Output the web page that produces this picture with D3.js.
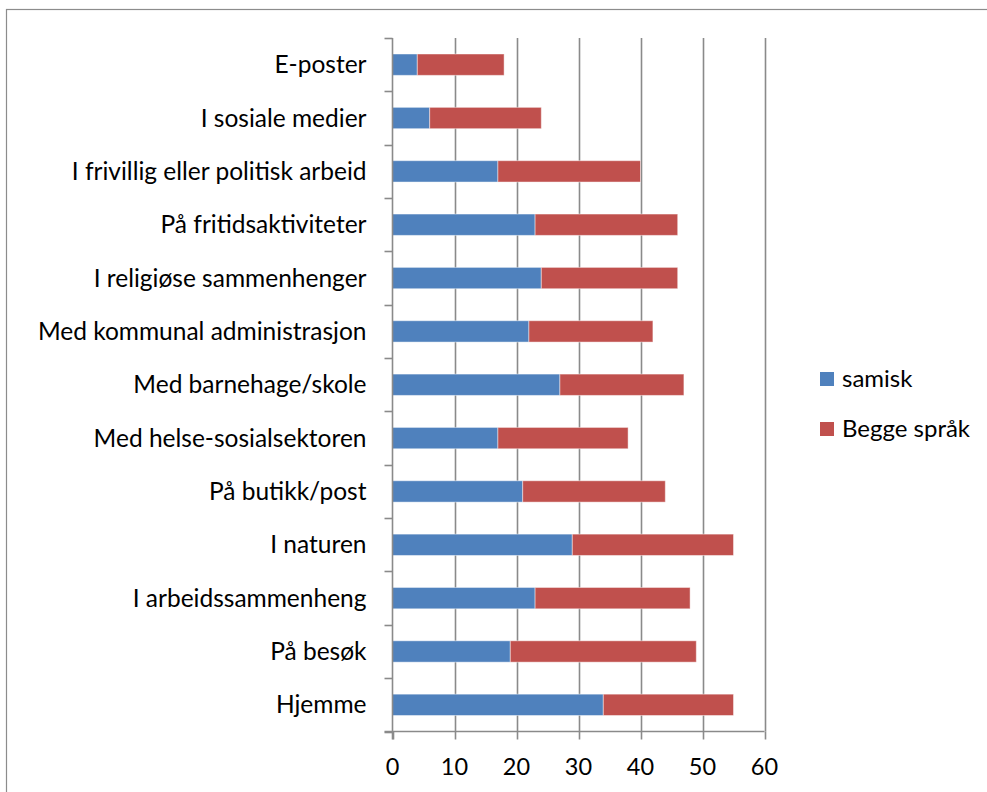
<!DOCTYPE html>
<html><head><meta charset="utf-8">
<script src="https://cdn.jsdelivr.net/npm/d3@7"></script>
<style>
html,body{margin:0;padding:0;background:#fff;}
svg{display:block;font-family:Lato,"Open Sans",sans-serif;}
</style></head>
<body>
<svg id="chart" width="987" height="792"></svg>
<script>
const categories = ["E-poster","I sosiale medier","I frivillig eller politisk arbeid","På fritidsaktiviteter","I religiøse sammenhenger","Med kommunal administrasjon","Med barnehage/skole","Med helse-sosialsektoren","På butikk/post","I naturen","I arbeidssammenheng","På besøk","Hjemme"];
const samisk = [4,6,17,23,24,22,27,17,21,29,23,19,34];
const begge = [14,18,23,23,22,20,20,21,23,26,25,30,21];
const seriesNames = ["samisk","Begge språk"];
const seriesColors = ["#4F81BD","#C0504D"];
const xTicks = [0,10,20,30,40,50,60];

(function(){
const svg = d3.select("#chart");
const pL = 392.5, pR = 764.5, pT = 38, pB = 731.5;

// outer frame
svg.append("rect").attr("x",6.5).attr("y",9.5).attr("width",1000).attr("height",800)
  .attr("fill","none").attr("stroke","#8c8c8c").attr("stroke-width",1.2);

const x = d3.scaleLinear().domain([0,60]).range([pL,pR]);
const y = d3.scaleBand().domain(categories).range([pT,pB]).paddingInner(0.6).paddingOuter(0.3);
const yb = d3.scaleBand().domain(categories).range([pT,pB]);

// gridlines
svg.append("g").selectAll("line").data(xTicks.slice(1)).join("line")
  .attr("x1",d=>Math.round(x(d))+0.5).attr("x2",d=>Math.round(x(d))+0.5)
  .attr("y1",pT).attr("y2",pB)
  .attr("stroke","#8a8a8a").attr("stroke-width",1.6);

// stacked bars
const rows = categories.map((c,i)=>({cat:c, samisk:samisk[i], begge:begge[i]}));
const stack = d3.stack().keys(["samisk","begge"])(rows);
svg.append("g").selectAll("g").data(stack).join("g")
  .attr("fill",(d,i)=>seriesColors[i])
  .selectAll("rect").data(d=>d).join("rect")
  .attr("x",d=>x(d[0])).attr("width",d=>x(d[1])-x(d[0]))
  .attr("y",d=>y(d.data.cat)).attr("height",y.bandwidth())
  .attr("stroke","rgba(255,255,255,0.45)").attr("stroke-width",1);

// y axis
const yAxis = svg.append("g").attr("transform",`translate(${pL},0)`);
yAxis.append("line").attr("x1",0).attr("x2",0).attr("y1",pT).attr("y2",pB+8)
  .attr("stroke","#8a8a8a").attr("stroke-width",1.6);
const bounds = categories.map(c=>yb(c)).concat([pB]);
yAxis.selectAll("line.tk").data(bounds).join("line").attr("class","tk")
  .attr("x1",-8).attr("x2",0).attr("y1",d=>Math.round(d)+0.5).attr("y2",d=>Math.round(d)+0.5)
  .attr("stroke","#8a8a8a").attr("stroke-width",1.6);
yAxis.selectAll("text").data(categories).join("text")
  .attr("x",-26).attr("y",d=>yb(d)+yb.bandwidth()/2)
  .attr("dy","0.35em").attr("text-anchor","end")
  .attr("font-size",24.5).attr("fill","#000").text(d=>d);

// x axis
const xAxis = svg.append("g").attr("transform",`translate(0,${pB})`);
xAxis.append("line").attr("x1",pL-8).attr("x2",pR).attr("y1",0).attr("y2",0)
  .attr("stroke","#8a8a8a").attr("stroke-width",1.6);
xAxis.selectAll("line.tk").data(xTicks).join("line").attr("class","tk")
  .attr("x1",d=>Math.round(x(d))+0.5).attr("x2",d=>Math.round(x(d))+0.5)
  .attr("y1",0).attr("y2",8).attr("stroke","#8a8a8a").attr("stroke-width",1.6);
xAxis.selectAll("text").data(xTicks).join("text")
  .attr("x",d=>x(d)).attr("y",43).attr("text-anchor","middle")
  .attr("font-size",23.5).attr("fill","#000").text(d=>d);

// legend
const lg = svg.append("g");
seriesNames.forEach((n,i)=>{
  const yy = 372 + i*50;
  lg.append("rect").attr("x",820).attr("y",yy).attr("width",14).attr("height",14).attr("fill",seriesColors[i]);
  lg.append("text").attr("x",842).attr("y",yy+7).attr("dy","0.35em")
    .attr("font-size",24).attr("fill","#000").text(n);
});
})();
</script>
</body></html>
